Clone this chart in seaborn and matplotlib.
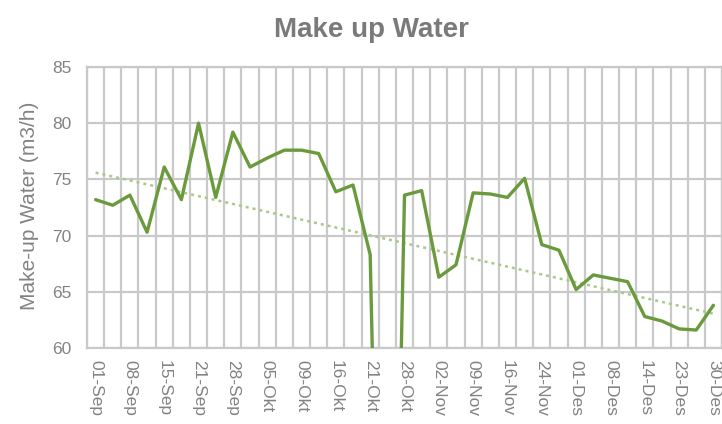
import numpy as np
import pandas as pd
import matplotlib
matplotlib.use("Agg")
import matplotlib.pyplot as plt
import seaborn as sns

# ---- data ----
values = [73.2, 72.7, 73.6, 70.3, 76.1, 73.2, 80.0, 73.4, 79.2, 76.1,
          76.9, 77.6, 77.6, 77.3, 73.9, 74.5, 68.3, 0.0, 73.6, 74.0,
          66.3, 67.4, 73.8, 73.7, 73.4, 75.1, 69.2, 68.7, 65.2, 66.5,
          66.2, 65.9, 62.8, 62.4, 61.7, 61.6, 63.8]
tick_labels = ["01-Sep", "08-Sep", "15-Sep", "21-Sep", "28-Sep", "05-Okt",
               "09-Okt", "16-Okt", "21-Okt", "28-Okt", "02-Nov", "09-Nov",
               "16-Nov", "24-Nov", "01-Des", "08-Des", "14-Des", "23-Des",
               "30-Des"]
title = "Make up Water"
ylabel = "Make-up Water (m3/h)"

idx = np.arange(len(values))
df = pd.DataFrame({"i": idx, "v": values})
coef = np.polyfit(df["i"], df["v"], 1)
df["trend"] = np.polyval(coef, df["i"])

sns.set_theme(style="white")
plt.rcParams["font.family"] = ["Liberation Sans", "DejaVu Sans"]

text_c = "#828282"
grid_c = "#c9c9c9"

fig = plt.figure(figsize=(7.22, 4.24), dpi=100)
ax = fig.add_axes([87/722, 1-348/424, 1-87/722, (348-67)/424])

sns.lineplot(data=df, x="i", y="trend", ax=ax, color="#a9c98a", lw=1.8,
             linestyle=(0, (1.2, 1.6)), zorder=3)
sns.lineplot(data=df, x="i", y="v", ax=ax, color="#6a9a3c", lw=2.4, zorder=4)

ax.set_xlim(-0.5, len(values) - 0.5)
ax.set_ylim(60, 85)
ax.set_yticks([60, 65, 70, 75, 80, 85])
ax.set_xticks(idx[::2])
ax.set_xticklabels(tick_labels, rotation=-90, ha="center", va="top")
ax.set_xticks(np.arange(-0.5, len(values), 1), minor=True)
ax.grid(False)
ax.grid(True, which="minor", axis="x", color=grid_c, lw=1.6)
ax.grid(True, which="major", axis="y", color=grid_c, lw=1.6)
ax.set_axisbelow(True)
for s in ax.spines.values():
    s.set_color(grid_c)
    s.set_linewidth(1.6)
ax.tick_params(axis="both", which="both", length=0, colors=text_c, labelsize=12.5)
ax.tick_params(axis="y", pad=11)
ax.tick_params(axis="x", pad=9)
ax.set_xlabel("")
ax.set_ylabel("")

fig.text(30/722, 1-206/424, ylabel, rotation=90, ha="center", va="center",
         color=text_c, fontsize=15)
fig.text(371/722, 1-30/424, title, ha="center", va="center",
         color="#7a7a7a", fontsize=20, fontweight="bold")

fig.savefig("out.png", dpi=100)
